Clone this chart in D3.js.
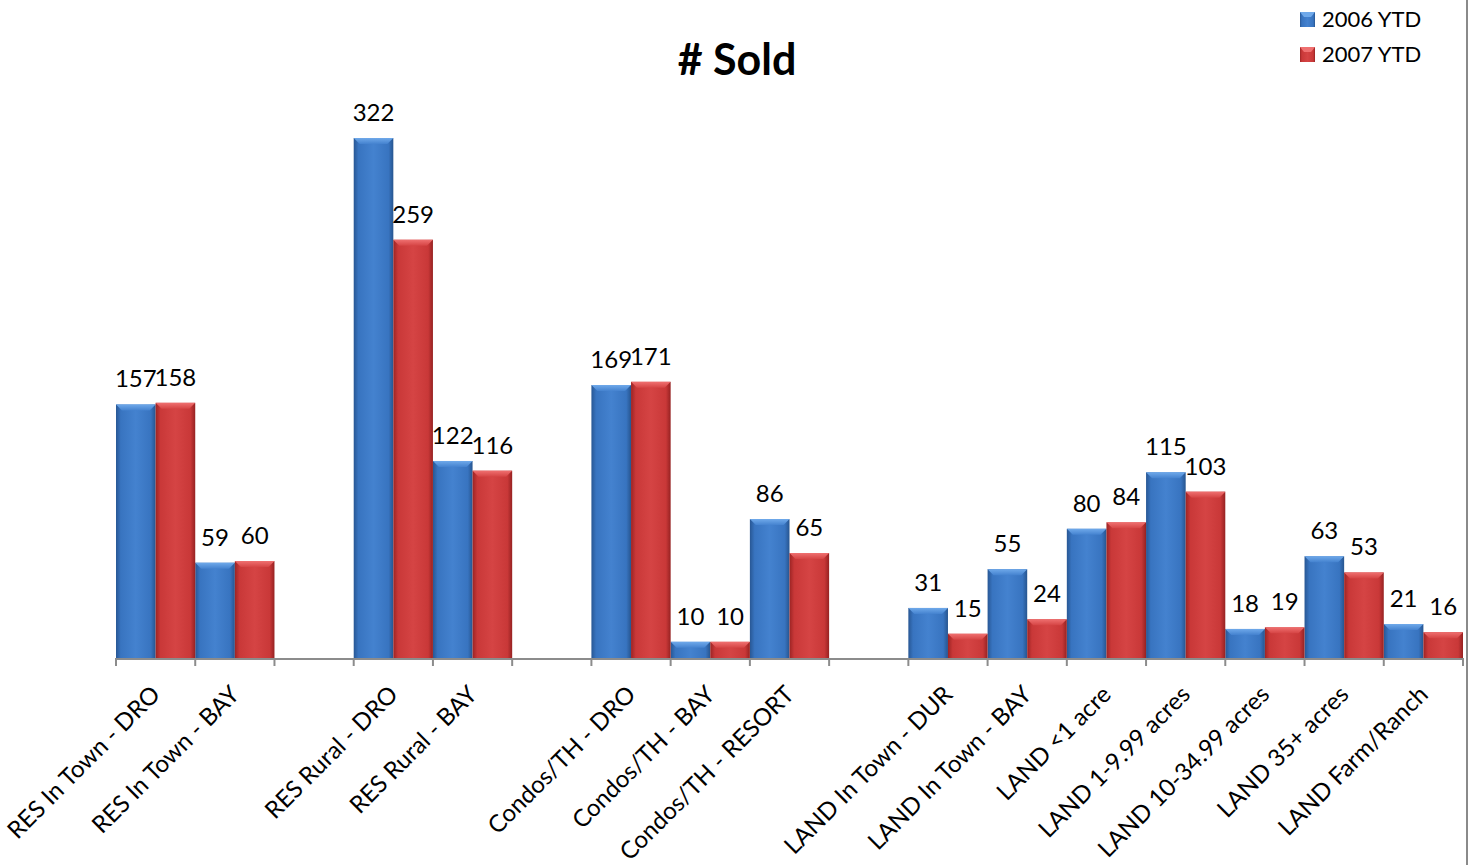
<!DOCTYPE html>
<html>
<head>
<meta charset="utf-8">
<script src="https://cdn.jsdelivr.net/npm/d3@7"></script>
<style>
  html, body { margin: 0; padding: 0; background: #fff; }
  svg { display: block; font-family: Lato, "Open Sans", sans-serif; }
</style>
</head>
<body>
<svg id="chart" width="1476" height="865"></svg>
<script>
// Category slots; empty strings are spacer slots between property groups
const categories = [
  "RES In Town - DRO", "RES In Town - BAY", "",
  "RES Rural - DRO", "RES Rural - BAY", "",
  "Condos/TH - DRO", "Condos/TH - BAY", "Condos/TH - RESORT", "",
  "LAND In Town - DUR", "LAND In Town - BAY", "LAND <1 acre",
  "LAND 1-9.99 acres", "LAND 10-34.99 acres", "LAND 35+ acres", "LAND Farm/Ranch"
];
const sold2006 = [157, 59, null, 322, 122, null, 169, 10, 86, null, 31, 55, 80, 115, 18, 63, 21];
const sold2007 = [158, 60, null, 259, 116, null, 171, 10, 65, null, 15, 24, 84, 103, 19, 53, 16];
const seriesNames = ["2006 YTD", "2007 YTD"];
const titleText = "# Sold";

const svg = d3.select("#chart");
const W = 1476, H = 865;
const plot = { left: 116, right: 1463, top: 138, bottom: 658 };

const x = d3.scaleBand()
  .domain(d3.range(categories.length))
  .range([plot.left, plot.right])
  .paddingInner(0).paddingOuter(0);

const x1 = d3.scaleBand().domain([0, 1]).range([0, x.bandwidth()]).padding(0);

const y = d3.scaleLinear().domain([0, 322]).range([plot.bottom, plot.top]);

// Gradients giving the bevelled bar look
const defs = svg.append("defs");
const palettes = [
  { id: "g0", stops: ["#285794", "#3874c0", "#4482cf", "#3874c0", "#27558f"], top: "#6fa9ea", side: "#3369b0" },
  { id: "g1", stops: ["#9c2424", "#c93838", "#d54444", "#c93838", "#962222"], top: "#ef7070", side: "#bb3232" }
];
palettes.forEach(p => {
  const g = defs.append("linearGradient").attr("id", p.id).attr("x1", 0).attr("x2", 1).attr("y1", 0).attr("y2", 0);
  [0, 0.12, 0.5, 0.88, 1].forEach((o, i) => g.append("stop").attr("offset", o).attr("stop-color", p.stops[i]));
  const t = defs.append("linearGradient").attr("id", p.id + "t").attr("x1", 0).attr("x2", 0).attr("y1", 0).attr("y2", 1);
  t.append("stop").attr("offset", 0).attr("stop-color", p.top);
  t.append("stop").attr("offset", 1).attr("stop-color", p.stops[2]);
});

// Title
svg.append("text")
  .attr("x", 737).attr("y", 75)
  .attr("text-anchor", "middle")
  .attr("font-size", 43).attr("font-weight", "bold")
  .attr("fill", "#000")
  .text(titleText);

// Right border of the chart frame
svg.append("line")
  .attr("x1", 1467).attr("x2", 1467).attr("y1", 0).attr("y2", H)
  .attr("stroke", "#8a8a8a").attr("stroke-width", 2);

// Bars
const series = [sold2006, sold2007];
const bevel = 6;
series.forEach((vals, s) => {
  const p = palettes[s];
  const g = svg.append("g");
  const items = vals.map((v, i) => ({ v, i })).filter(d => d.v != null);
  const bar = g.selectAll("g").data(items).join("g")
    .attr("transform", d => `translate(${x(d.i) + x1(s)},0)`);
  const bw = x1.bandwidth();
  bar.append("rect")
    .attr("x", 0).attr("width", bw)
    .attr("y", d => y(d.v)).attr("height", d => y(0) - y(d.v))
    .attr("fill", `url(#${p.id})`);
  bar.append("path")
    .attr("d", d => {
      const t = y(d.v);
      return `M0,${t}H${bw}L${bw - bevel},${t + bevel}H${bevel}Z`;
    })
    .attr("fill", `url(#${p.id}t)`);
  // value labels
  g.selectAll("text").data(items).join("text")
    .attr("x", d => x(d.i) + x1(s) + bw / 2)
    .attr("y", d => y(d.v) - 17)
    .attr("text-anchor", "middle")
    .attr("font-size", 24)
    .attr("fill", "#000")
    .text(d => d.v);
});

// Category axis: ticks between slots
const axis = svg.append("g");
axis.append("line")
  .attr("x1", plot.left).attr("x2", plot.right)
  .attr("y1", plot.bottom + 1).attr("y2", plot.bottom + 1)
  .attr("stroke", "#8c8c8c").attr("stroke-width", 2);
const tickPos = d3.range(categories.length).map(i => x(i)).concat([x.range()[1]]);
axis.selectAll("line.tick").data(tickPos).join("line")
  .attr("class", "tick")
  .attr("x1", d => d).attr("x2", d => d)
  .attr("y1", plot.bottom).attr("y2", plot.bottom + 8)
  .attr("stroke", "#8c8c8c").attr("stroke-width", 2);

axis.selectAll("text").data(categories.map((c, i) => ({ c, i })).filter(d => d.c)).join("text")
  .attr("transform", d => `translate(${x(d.i) + x.bandwidth() / 2 + 6},${plot.bottom + 38}) rotate(-45)`)
  .attr("text-anchor", "end")
  .attr("font-size", 24)
  .attr("fill", "#000")
  .text(d => d.c);

// Legend
const legend = svg.append("g").attr("transform", "translate(1300,10)");
seriesNames.forEach((name, s) => {
  const p = palettes[s];
  const row = legend.append("g").attr("transform", `translate(0,${s * 35})`);
  row.append("rect").attr("x", 0).attr("y", 2).attr("width", 15).attr("height", 15).attr("fill", `url(#${p.id})`);
  row.append("path").attr("d", "M0,2H15L11,7H4Z").attr("fill", p.top);
  row.append("text").attr("x", 22).attr("y", 17).attr("font-size", 22).attr("fill", "#000").text(name);
});
</script>
</body>
</html>
